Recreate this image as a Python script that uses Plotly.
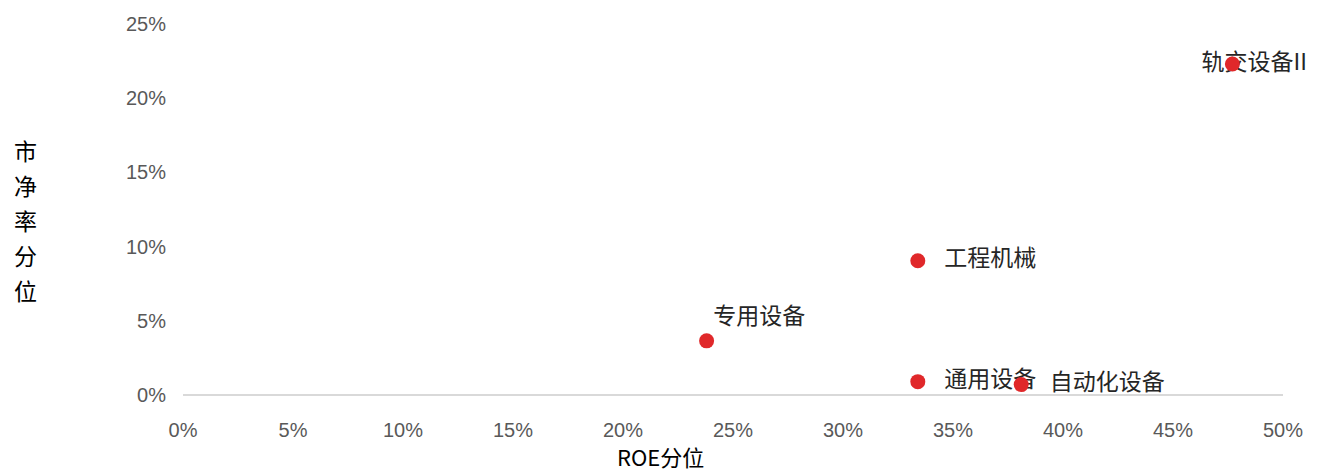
import plotly.graph_objects as go

# Data
categories = ["专用设备", "工程机械", "通用设备", "自动化设备", "轨交设备II"]
roe_pct = [23.8, 33.4, 33.4, 38.1, 47.7]        # ROE分位 (%)
pb_pct = [3.65, 9.05, 0.9, 0.7, 22.3]           # 市净率分位 (%)
x_ticks = [0, 5, 10, 15, 20, 25, 30, 35, 40, 45, 50]
y_ticks = [0, 5, 10, 15, 20, 25]
x_title = "ROE分位"
y_title = "市净率分位"

# label offsets in axis units (style only)
label_dx = [0.3, 1.2, 1.2, 1.3, -1.4]
label_dy = [1.55, 0.0, 0.0, 0.0, 0.0]

fig = go.Figure()
# labels drawn first so markers sit on top
fig.add_trace(go.Scatter(
    x=[x + d for x, d in zip(roe_pct, label_dx)],
    y=[y + d for y, d in zip(pb_pct, label_dy)],
    mode="text", text=categories, textposition="middle right",
    textfont=dict(family="Noto Sans CJK SC", size=23, color="#262626"),
    cliponaxis=False, hoverinfo="skip",
))
fig.add_trace(go.Scatter(
    x=roe_pct, y=pb_pct, mode="markers",
    marker=dict(size=15, color="#E0282A"),
    cliponaxis=False, hoverinfo="x+y+text", text=categories,
))

# page is offset by the 8px body margin; plot area spans page x 183..1283, y 24..395
fig.add_annotation(
    xref="paper", yref="paper", x=(660 - 183) / 1100, y=-(456 - 395) / 371,
    text=x_title, showarrow=False, xanchor="center", yanchor="middle",
    font=dict(family="Liberation Sans Narrow, Noto Sans CJK SC", size=22, color="#000000"),
)
# vertical stacked y title, one character per row
for i, ch in enumerate(y_title):
    fig.add_annotation(
        xref="paper", yref="paper", x=-(183 - 25) / 1100,
        y=(395 - (150 + 35 * i)) / 371,
        text=ch, showarrow=False, xanchor="center", yanchor="middle",
        font=dict(family="Noto Sans CJK SC", size=23, color="#000000"),
    )

fig.update_layout(
    width=1332, height=473,
    margin=dict(l=175, r=57, t=16, b=86, autoexpand=False),
    plot_bgcolor="white", paper_bgcolor="white",
    showlegend=False,
    xaxis=dict(
        range=[0, 50], tickvals=x_ticks, ticktext=[f"{v}%" for v in x_ticks],
        showgrid=False, zeroline=False, showline=False, ticks="",
        ticklabelstandoff=21, automargin=False,
        tickfont=dict(family="Liberation Sans Narrow, Arial", size=20, color="#595959"),
    ),
    yaxis=dict(
        range=[0, 25], tickvals=y_ticks, ticktext=[f"{v}%" for v in y_ticks],
        showgrid=False, zeroline=True, zerolinecolor="#D9D9D9", zerolinewidth=2,
        showline=False, ticks="", ticklabelstandoff=16, automargin=False,
        tickfont=dict(family="Liberation Sans Narrow, Arial", size=20, color="#595959"),
    ),
)

fig.write_html("out.html")
